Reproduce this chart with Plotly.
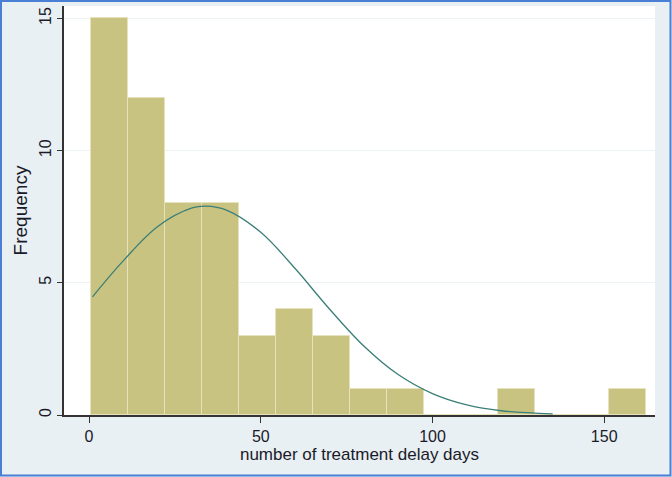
import plotly.graph_objects as go

# histogram: bin start / width and counts per bin
bin_start = 0.7
bin_width = 10.76
counts = [15, 12, 8, 8, 3, 4, 3, 1, 1, 0, 0, 1, 0, 0, 1]

# normal density overlay
curve_x = [1, 10, 20, 30, 34, 40, 50, 60, 70, 80, 90, 100, 110, 120, 135]
curve_y = [4.47, 5.84, 7.13, 7.83, 7.90, 7.75, 6.91, 5.54, 4.01, 2.61, 1.53, 0.81, 0.38, 0.16, 0.04]

x_ticks = [0, 50, 100, 150]
y_ticks = [0, 5, 10, 15]

centers = [bin_start + bin_width * (i + 0.5) for i in range(len(counts))]

fig = go.Figure()

fig.add_trace(go.Bar(
    x=centers,
    y=counts,
    width=bin_width,
    marker=dict(color='#c9c381', line=dict(color='#e6e2bd', width=1)),
    showlegend=False,
))

fig.add_trace(go.Scatter(
    x=curve_x,
    y=curve_y,
    mode='lines',
    line=dict(color='#3b7f78', width=1.3, shape='spline'),
    showlegend=False,
))

font = dict(family='Liberation Sans, Arial, sans-serif', size=16, color='#1a1a2a')

fig.update_layout(
    width=672,
    height=477,
    margin=dict(l=64, r=17, t=6, b=62, autoexpand=False),
    paper_bgcolor='#e9f0f3',
    plot_bgcolor='white',
    bargap=0,
    font=font,
    shapes=[dict(
        type='rect', xref='paper', yref='paper',
        x0=-0.1066, x1=1.0262, y0=-0.1479, y1=1.0122,
        line=dict(color='#4a7fd6', width=2),
    )],
)

fig.update_xaxes(
    range=[-7.3, 164.8],
    tickvals=x_ticks,
    ticks='outside', ticklen=6, tickcolor='#333',
    showline=True, linecolor='#333', linewidth=1.5,
    showgrid=False, zeroline=False, automargin=False,
    title=dict(text='number of treatment delay days', standoff=0, font=dict(size=17)),
)

fig.update_yaxes(
    range=[0, 15.47],
    tickvals=y_ticks,
    tickangle=-90,
    ticks='outside', ticklen=5, tickcolor='#333',
    showline=True, linecolor='#333', linewidth=1.5,
    showgrid=True, gridcolor='#edf2f5', zeroline=False, automargin=False,
    title=dict(text='Frequency', standoff=4),
)

# page body has a default 8px margin; remove it so the figure sits at 0,0
fig.write_html('out.html', config={'displayModeBar': False},
               post_script="document.body.style.margin='0';")
